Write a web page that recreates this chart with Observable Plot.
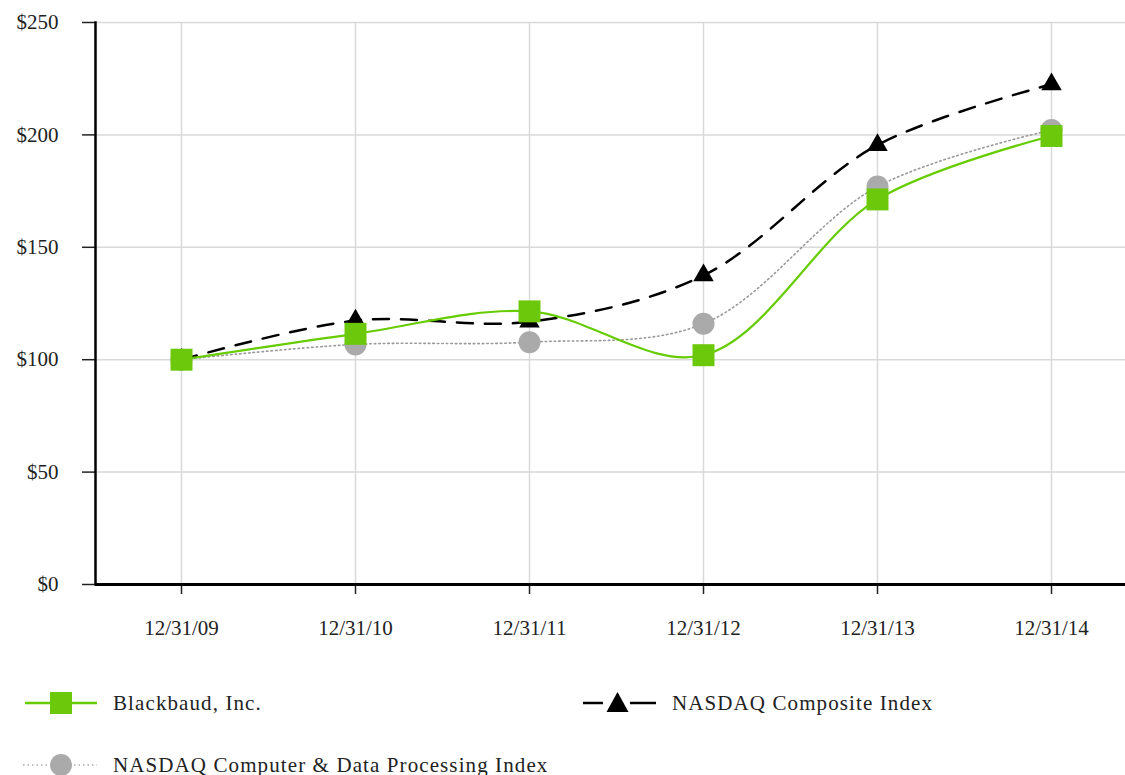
<!DOCTYPE html>
<html>
<head>
<meta charset="utf-8">
<script src="https://cdn.jsdelivr.net/npm/d3@7"></script>
<script src="https://cdn.jsdelivr.net/npm/@observablehq/plot@0.6"></script>
<style>
  html, body { margin: 0; padding: 0; background: #fff; overflow: hidden; }
  #wrap { position: relative; width: 1125px; height: 775px; overflow: hidden; font-family: "Liberation Serif", "Times New Roman", serif; color: #222; }
  .leg { position: absolute; display: flex; align-items: center; font-size: 21px; letter-spacing: 1.1px; }
  .leg svg { display: block; margin-right: 16px; }
</style>
</head>
<body>
<div id="wrap">
  <div id="chart"></div>
  <div class="leg" style="left:25px; top:688px;">
    <svg width="72" height="30"><line x1="0" y1="15" x2="72" y2="15" stroke="#66cc00" stroke-width="2.5"/><rect x="25" y="4" width="22" height="22" fill="#6cc80a"/></svg>
    <span>Blackbaud, Inc.</span>
  </div>
  <div class="leg" style="left:583px; top:688px;">
    <svg width="73" height="30"><line x1="0" y1="15" x2="20" y2="15" stroke="#000" stroke-width="2.5"/><line x1="47" y1="15" x2="73" y2="15" stroke="#000" stroke-width="2.5"/><path d="M34.5,4 L45.5,24 L23.5,24 Z" fill="#000"/></svg>
    <span>NASDAQ Composite Index</span>
  </div>
  <div class="leg" style="left:22px; top:750px;">
    <svg width="75" height="30"><line x1="1" y1="15" x2="27" y2="15" stroke="#aaa" stroke-width="1.5" stroke-dasharray="1.5,3"/><line x1="52" y1="15" x2="75" y2="15" stroke="#aaa" stroke-width="1.5" stroke-dasharray="1.5,3"/><circle cx="39" cy="15" r="11" fill="#aaa"/></svg>
    <span>NASDAQ Computer &amp; Data Processing Index</span>
  </div>
</div>
<script>
const dates = ["12/31/09", "12/31/10", "12/31/11", "12/31/12", "12/31/13", "12/31/14"];
const blackbaud = [100, 111.5, 121.5, 102, 171.3, 199.5];
const nasdaqComposite = [100, 117.4, 116.9, 137.5, 195.5, 222.5];
const nasdaqComputer = [100, 106.8, 107.8, 116, 177, 202.2];
const yTicks = [0, 50, 100, 150, 200, 250];

const rows = (vals) => dates.map((d, i) => ({date: d, value: vals[i]}));
const bb = rows(blackbaud), nc = rows(nasdaqComposite), ncp = rows(nasdaqComputer);

const plot = Plot.plot({
  width: 1125,
  height: 660,
  marginLeft: 95,
  marginRight: 0,
  marginTop: 22,
  marginBottom: 76,
  style: {fontFamily: "'Liberation Serif', 'Times New Roman', serif", fontSize: "21px", color: "#222", background: "#fff"},
  x: {type: "point", domain: dates, range: [180, 1051], padding: 0, label: null},
  y: {domain: [0, 250], label: null},
  marks: [
    Plot.gridY(yTicks, {stroke: "#d9d9d9", strokeOpacity: 1, strokeWidth: 1.5}),
    Plot.gridX(dates, {stroke: "#d9d9d9", strokeOpacity: 1, strokeWidth: 1.5}),
    Plot.axisY(yTicks, {label: null, tickSize: 13, tickPadding: 24, tickFormat: d => "$" + d, stroke: "#222", strokeWidth: 1.5, fontSize: 21, letterSpacing: 1.2}),
    Plot.axisX(dates, {label: null, tickSize: 10, tickPadding: 26, stroke: "#222", strokeWidth: 1.5, fontSize: 21, letterSpacing: 1.5}),
    Plot.gridY([0], {stroke: "#000", strokeOpacity: 1, strokeWidth: 3}),
    Plot.frame({anchor: "left", stroke: "#000", strokeWidth: 2.5}),
    Plot.line(ncp, {x: "date", y: "value", curve: "catmull-rom", stroke: "#999", strokeWidth: 1.6, strokeDasharray: "1.5,3"}),
    Plot.dot(ncp, {x: "date", y: "value", r: 11, fill: "#aaa", symbol: "circle"}),
    Plot.line(nc, {x: "date", y: "value", curve: "catmull-rom", stroke: "#000", strokeWidth: 2.5, strokeDasharray: "16,12"}),
    Plot.dot(nc, {x: "date", y: "value", r: 7.6, fill: "#000", symbol: "triangle"}),
    Plot.line(bb, {x: "date", y: "value", curve: "catmull-rom", stroke: "#66cc00", strokeWidth: 2.2}),
    Plot.dot(bb, {x: "date", y: "value", r: 12.4, fill: "#6cc80a", symbol: "square"})
  ]
});
document.getElementById("chart").appendChild(plot);
</script>
</body>
</html>
